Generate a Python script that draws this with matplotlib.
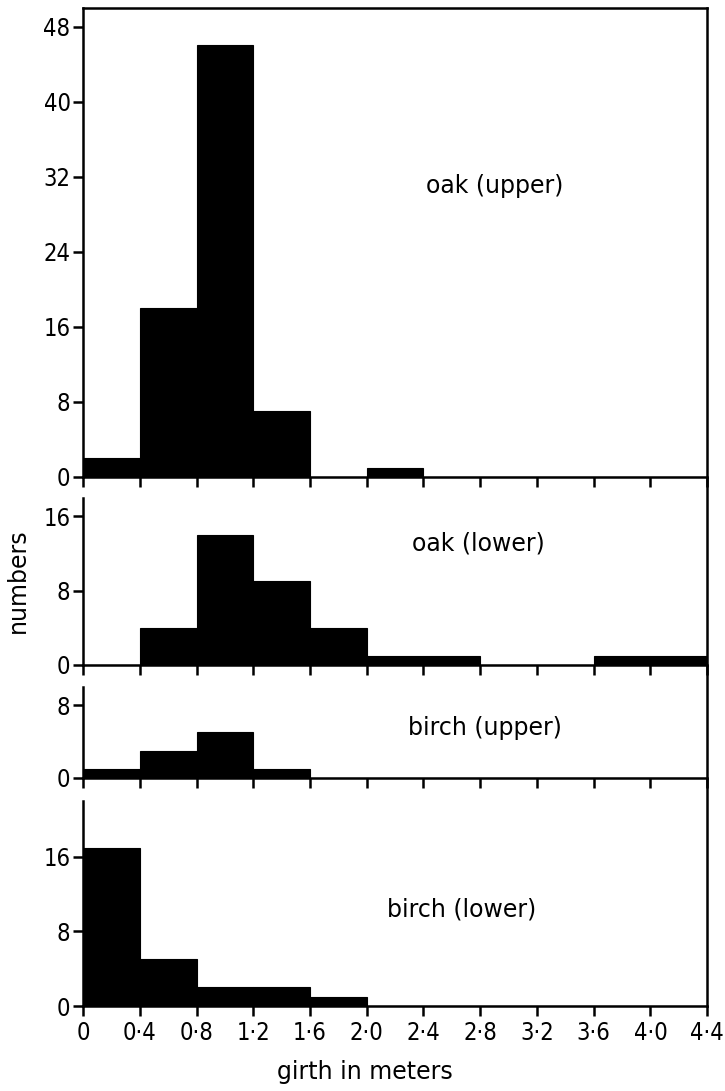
import matplotlib
matplotlib.use("Agg")
import matplotlib.pyplot as plt
from matplotlib.lines import Line2D

# ---- data ----
bin_edges = [0.0, 0.4, 0.8, 1.2, 1.6, 2.0, 2.4, 2.8, 3.2, 3.6, 4.0]
oak_upper = [2, 18, 46, 7, 0, 1, 0, 0, 0, 0, 0]
oak_lower = [0, 4, 14, 9, 4, 1, 1, 0, 0, 1, 1]
birch_upper = [1, 3, 5, 1, 0, 0, 0, 0, 0, 0, 0]
birch_lower = [17, 5, 2, 2, 1, 0, 0, 0, 0, 0, 0]
panel_labels = ["oak (upper)", "oak (lower)", "birch (upper)", "birch (lower)"]
xtick_vals = [0, 0.4, 0.8, 1.2, 1.6, 2.0, 2.4, 2.8, 3.2, 3.6, 4.0, 4.4]
xtick_labels = ["0", "0·4", "0·8", "1·2", "1·6", "2·0", "2·4", "2·8", "3·2", "3·6", "4·0", "4·4"]
yticks = [[0, 8, 16, 24, 32, 40, 48], [0, 8, 16], [0, 8], [0, 8, 16]]
ylims = [50, 18, 10, 22]

series = [oak_upper, oak_lower, birch_upper, birch_lower]

fig = plt.figure(figsize=(7.25, 10.91), dpi=100)
left, width = 0.1145, 0.861
boxes = [(0.5628, 0.4299), (0.3905, 0.1531), (0.2869, 0.0834), (0.0779, 0.1879)]
text_pos = [(2.9, 31), (2.79, 13.1), (2.83, 5.5), (2.67, 10.4)]

lw = 1.8
tick_font = dict(family="DejaVu Sans", stretch="condensed", size=17)
axes = []
for i, (vals, (b, h)) in enumerate(zip(series, boxes)):
    ax = fig.add_axes([left, b, width, h])
    ax.bar(bin_edges, vals, width=0.4, align="edge", color="black",
           edgecolor="black", linewidth=0.8)
    ax.set_xlim(0, 4.4)
    ax.set_ylim(0, ylims[i])
    ax.set_yticks(yticks[i])
    ax.set_yticklabels([str(v) for v in yticks[i]], fontdict=tick_font)
    ax.set_xticks(xtick_vals)
    for s in ["left", "bottom", "right", "top"]:
        ax.spines[s].set_linewidth(lw)
    ax.spines["right"].set_visible(False)
    ax.spines["top"].set_visible(i == 0)
    ax.tick_params(axis="both", direction="out", length=7, width=lw, pad=2)
    ax.tick_params(axis="x", pad=4)
    if i < 3:
        ax.set_xticklabels([])
    else:
        ax.set_xticklabels(xtick_labels, fontdict=tick_font)
    ax.text(text_pos[i][0], text_pos[i][1], panel_labels[i], fontsize=17,
            ha="center", va="center")
    axes.append(ax)

# continuous right border
top_y = boxes[0][0] + boxes[0][1]
bot_y = boxes[3][0]
fig.add_artist(Line2D([left + width, left + width], [bot_y, top_y],
                      transform=fig.transFigure, color="black", linewidth=lw))

fig.text(0.025, 0.468, "numbers", rotation=90, fontsize=17, ha="center", va="center")
fig.text(0.503, 0.017, "girth in meters", fontsize=17, ha="center", va="center")

fig.savefig("out.png", dpi=100, facecolor="white")
